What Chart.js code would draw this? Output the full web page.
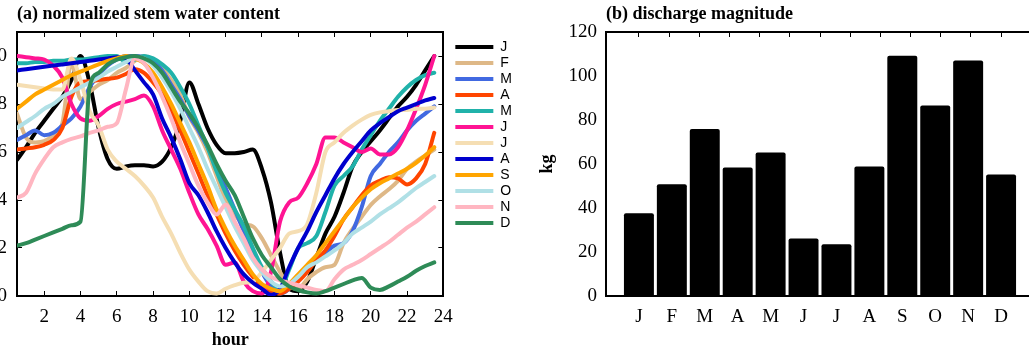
<!DOCTYPE html>
<html>
<head>
<meta charset="utf-8">
<script src="https://cdn.jsdelivr.net/npm/chart.js@4.4.1/dist/chart.umd.min.js"></script>
<style>
    body { margin: 0; background: #fff; overflow: hidden; width: 1029px; height: 351px; position: relative; }
    #waterChart { position: absolute; left: 0; top: 0; }
    #dischargeChart { position: absolute; left: 530px; top: 0; }
</style>
</head>
<body>
<canvas id="waterChart" width="522" height="351"></canvas>
<canvas id="dischargeChart" width="510" height="351"></canvas>
<script>
// x values shared by every month (half hour steps)
var hours = [0.5, 1, 1.5, 2, 2.5, 3, 3.5, 4, 4.5, 5, 5.5, 6,
    6.5, 7, 7.5, 8, 8.5, 9, 9.5, 10, 10.5, 11, 11.5, 12,
    12.5, 13, 13.5, 14, 14.5, 15, 15.5, 16, 16.5, 17, 17.5, 18,
    18.5, 19, 19.5, 20, 20.5, 21, 21.5, 22, 22.5, 23, 23.5];

var hourTicks = [2, 4, 6, 8, 10, 12, 14, 16, 18, 20, 22, 24];
var waterTicks = [0, 0.2, 0.4, 0.6, 0.8, 1.0];

var monthNames = ['J', 'F', 'M', 'A', 'M', 'J', 'J', 'A', 'S', 'O', 'N', 'D'];
var monthColors = ['#000000', '#deb887', '#4169e1', '#ff4500', '#20b2aa', '#ff1493',
    '#f5deb3', '#0000cd', '#ffa500', '#b0e0e6', '#ffb6c1', '#2e8b57'];

// normalized stem water content per month
var janWater = [.567, .62, .68, .73, .78, .83, .90, 1.0, .89, .70, .57, .53,
    .54, .545, .545, .54, .56, .62, .73, .89, .80, .70, .63, .595,
    .595, .60, .61, .53, .39, .18, .03, .02, .06, .16, .26, .33,
    .43, .54, .60, .645, .69, .74, .79, .83, .88, .94, 1.0];
var febWater = [.76, .66, .64, .645, .67, .72, .97, .82, .85, .88, .90, .93,
    .95, .98, 1.0, .98, .95, .90, .84, .745, .68, .60, .50, .40,
    .34, .30, .29, .24, .17, .10, .04, .03, .07, .10, .12, .13,
    .22, .28, .33, .38, .415, .445, .48, .53, .56, .585, .61];
var marWater = [.65, .67, .69, .67, .68, .71, .74, .79, .87, .92, .96, .985,
    1.0, 1.0, .995, .98, .94, .88, .82, .75, .69, .62, .54, .45,
    .36, .27, .18, .10, .04, .01, .03, .08, .11, .15, .18, .21,
    .22, .27, .37, .50, .55, .60, .64, .69, .73, .76, .79];
var aprWater = [.61, .615, .62, .63, .65, .70, .83, .89, .895, .90, .905, .91,
    .925, .945, .93, .89, .84, .77, .69, .60, .51, .42, .34, .26,
    .19, .13, .08, .04, .02, .01, .03, .06, .10, .15, .19, .25,
    .32, .37, .42, .46, .48, .495, .49, .465, .49, .55, .68];
var mayWater = [.97, .97, .975, .975, .98, .98, .985, .985, .99, .995, 1.0, 1.0,
    .975, .985, 1.0, .99, .965, .93, .87, .80, .71, .62, .52, .43,
    .36, .29, .20, .12, .06, .03, .11, .20, .22, .25, .35, .46,
    .50, .54, .61, .67, .73, .78, .83, .87, .90, .92, .93];
var junWater = [1.0, .995, .99, .985, .96, .91, .80, .74, .73, .75, .78, .80,
    .81, .82, .835, .79, .69, .61, .53, .43, .34, .28, .21, .13,
    .14, .06, .02, .01, .10, .31, .39, .41, .47, .55, .66, .66,
    .64, .62, .60, .615, .59, .59, .62, .69, .78, .88, 1.0];
var julWater = [.88, .875, .87, .865, .86, .86, .99, .90, .77, .71, .61, .56,
    .53, .50, .46, .41, .33, .26, .18, .11, .06, .02, .01, .03,
    .045, .055, .06, .10, .15, .20, .26, .27, .30, .43, .60, .64,
    .68, .71, .735, .755, .765, .77, .775, .775, .78, .78, .785];
var augWater = [.94, .945, .95, .955, .96, .965, .97, .975, .98, .985, .99, .995,
    .99, .94, .89, .84, .74, .66, .57, .47, .42, .35, .27, .20,
    .14, .09, .055, .03, .005, .03, .12, .20, .27, .35, .42, .49,
    .55, .60, .645, .69, .72, .745, .77, .785, .80, .815, .825];
var sepWater = [.78, .81, .84, .86, .88, .90, .92, .935, .95, .965, .98, .99,
    1.0, .99, .97, .93, .87, .80, .72, .64, .55, .46, .36, .28,
    .21, .15, .09, .05, .03, .02, .05, .09, .13, .17, .22, .27,
    .32, .37, .41, .445, .47, .49, .51, .53, .555, .585, .62];
var octWater = [.70, .725, .75, .78, .80, .83, .85, .87, .89, .91, .935, .955,
    .975, .995, .99, .96, .91, .85, .78, .70, .62, .53, .45, .37,
    .29, .22, .15, .10, .06, .04, .05, .08, .12, .14, .165, .19,
    .22, .26, .285, .31, .34, .365, .39, .42, .45, .475, .50];
var novWater = [.41, .43, .51, .57, .62, .64, .655, .665, .68, .69, .705, .72,
    .86, .99, .97, .91, .83, .74, .64, .55, .46, .39, .34, .38,
    .31, .24, .16, .11, .08, .065, .055, .045, .035, .025, .02, .07,
    .11, .13, .15, .175, .20, .225, .255, .285, .31, .34, .37];
var decWater = [.21, .22, .235, .25, .265, .28, .295, .31, .87, .93, .965, .985,
    .995, 1.0, .99, .97, .93, .87, .81, .76, .70, .63, .55, .48,
    .42, .33, .24, .17, .12, .07, .04, .025, .015, .01, .02, .035,
    .05, .065, .075, .035, .025, .04, .06, .08, .105, .125, .14];

// discharge magnitude (kg) per month
var monthSlots = [1, 2, 3, 4, 5, 6, 7, 8, 9, 10, 11, 12];
var discharge = [37.6, 50.8, 75.9, 58.4, 65.2, 26.1, 23.5, 58.9, 109.2, 86.6, 107, 55.2];
var dischargeTicks = [0, 20, 40, 60, 80, 100, 120];

var serif = 'Liberation Serif';
Chart.defaults.font.family = serif;
Chart.defaults.color = '#000';

function fixedTicks(list) {
    return function (axis) {
        axis.ticks = list.map(function (v) { return { value: v }; });
    };
}

// frame axis without labels, ticks pointing inward
function frameAxis(axisName, position, min, max, list, size) {
    return {
        axis: axisName,
        type: 'linear',
        position: position,
        min: min,
        max: max,
        afterBuildTicks: fixedTicks(list),
        afterFit: function (axis) {
            if (axisName === 'x') { axis.height = size; } else { axis.width = size; }
        },
        ticks: { display: false },
        grid: { drawOnChartArea: false, tickLength: -5, color: '#000', lineWidth: 1 },
        border: { color: '#000', width: 2 }
    };
}

var waterSeries = [janWater, febWater, marWater, aprWater, mayWater, junWater,
    julWater, augWater, sepWater, octWater, novWater, decWater];

var waterSets = waterSeries.map(function (vals, i) {
    return {
        label: monthNames[i],
        data: vals.map(function (v, k) { return { x: hours[k], y: v }; }),
        borderColor: monthColors[i],
        backgroundColor: monthColors[i],
        borderWidth: 4,
        pointRadius: 0,
        pointStyle: 'line',
        borderCapStyle: 'round',
        borderJoinStyle: 'round',
        cubicInterpolationMode: 'monotone',
        order: monthNames.length - i // later months drawn on top
    };
});

var waterChart = new Chart(document.getElementById('waterChart'), {
    type: 'line',
    data: { datasets: waterSets },
    options: {
        responsive: false,
        animation: false,
        devicePixelRatio: 1,
        layout: { padding: 0 },
        plugins: {
            tooltip: { enabled: false },
            title: {
                display: true,
                text: '(a) normalized stem water content',
                align: 'start',
                fullSize: false,
                color: '#000',
                font: { family: serif, size: 18, weight: 'bold' },
                padding: { top: 4, bottom: 6.4 }
            },
            legend: {
                position: 'right',
                align: 'start',
                // empty title only pushes the entries down
                title: { display: true, text: ' ', font: { size: 5 }, padding: { top: 32, bottom: 0 } },
                labels: {
                    usePointStyle: true,
                    pointStyle: 'line',
                    pointStyleWidth: 38,
                    padding: 2,
                    color: '#000',
                    font: { family: 'Liberation Sans', size: 14 },
                    sort: function (a, b) { return a.datasetIndex - b.datasetIndex; }
                }
            }
        },
        scales: {
            x: {
                type: 'linear',
                min: 0.5,
                max: 24,
                afterBuildTicks: fixedTicks(hourTicks),
                afterFit: function (axis) { axis.height = 55; },
                grid: { drawOnChartArea: false, tickLength: -5, color: '#000', lineWidth: 1 },
                border: { color: '#000', width: 2 },
                ticks: { padding: 15, maxRotation: 0, autoSkip: false, font: { family: serif, size: 19 } },
                title: {
                    display: true,
                    text: 'hour',
                    font: { family: serif, size: 18, weight: 'bold' },
                    padding: { top: 0, bottom: 0 }
                }
            },
            y: {
                type: 'linear',
                min: 0,
                max: 1.1,
                afterBuildTicks: fixedTicks(waterTicks),
                afterFit: function (axis) { axis.width = 17; },
                grid: { drawOnChartArea: false, tickLength: -5, color: '#000', lineWidth: 1 },
                border: { color: '#000', width: 2 },
                ticks: {
                    padding: 15,
                    font: { family: serif, size: 19 },
                    callback: function (v) { return v.toFixed(1); }
                }
            },
            x2: frameAxis('x', 'top', 0.5, 24, hourTicks, 0),
            y2: frameAxis('y', 'right', 0, 1.1, waterTicks, 10)
        }
    }
});

var dischargeChart = new Chart(document.getElementById('dischargeChart'), {
    type: 'bar',
    data: {
        datasets: [{
            label: 'discharge',
            data: discharge.map(function (v, i) { return { x: monthSlots[i], y: v }; }),
            backgroundColor: '#000',
            borderWidth: 0,
            borderRadius: 2,
            barPercentage: 0.91,
            categoryPercentage: 1
        }]
    },
    options: {
        responsive: false,
        animation: false,
        devicePixelRatio: 1,
        layout: { padding: { right: 6 } },
        plugins: {
            tooltip: { enabled: false },
            legend: { display: false },
            title: {
                display: true,
                text: '(b) discharge magnitude',
                align: 'start',
                fullSize: false,
                color: '#000',
                font: { family: serif, size: 18, weight: 'bold' },
                padding: { top: 4, bottom: 6.4 }
            }
        },
        scales: {
            x: {
                type: 'linear',
                min: 0,
                max: 13,
                offset: false,
                afterBuildTicks: fixedTicks(monthSlots),
                afterFit: function (axis) { axis.height = 55; },
                grid: { display: true, drawOnChartArea: false, drawTicks: false },
                border: { color: '#000', width: 2 },
                ticks: {
                    padding: 10,
                    autoSkip: false,
                    maxRotation: 0,
                    font: { family: serif, size: 19 },
                    callback: function (v) { return monthNames[v - 1]; }
                }
            },
            y: {
                min: 0,
                max: 120,
                afterBuildTicks: fixedTicks(dischargeTicks),
                afterFit: function (axis) { axis.width = 76; },
                grid: { display: true, drawOnChartArea: false, drawTicks: false },
                border: { color: '#000', width: 2 },
                ticks: { padding: 9, font: { family: serif, size: 19 } },
                title: {
                    display: true,
                    text: 'kg',
                    font: { family: serif, size: 18, weight: 'bold' },
                    padding: { top: 7, bottom: 0 }
                }
            },
            x2: frameAxis('x', 'top', 0, 13, monthSlots, 0)
        }
    }
});
</script>
</body>
</html>
